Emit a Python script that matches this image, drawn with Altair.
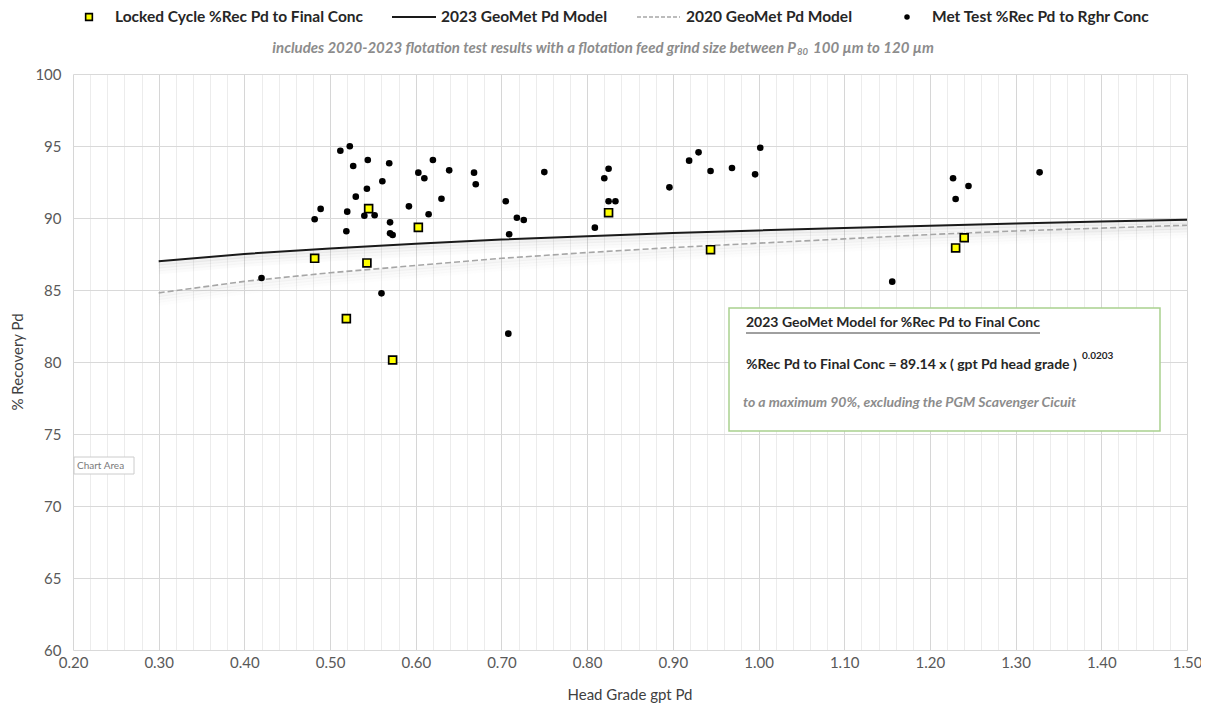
import altair as alt
import pandas as pd

# ---------------- data ----------------
# Locked Cycle %Rec Pd to Final Conc (yellow squares)
lc_x = [0.545, 0.482, 0.543, 0.603, 0.519, 0.573, 0.825, 0.944, 1.240, 1.230]
lc_y = [90.65, 87.20, 86.88, 89.35, 83.01, 80.14, 90.37, 87.80, 88.63, 87.92]

# Met Test %Rec Pd to Rghr Conc (black dots)
mt_x = [0.512, 0.523, 0.527, 0.544, 0.569, 0.561, 0.543, 0.530, 0.489, 0.482,
        0.520, 0.540, 0.552, 0.519, 0.570, 0.570, 0.573, 0.592, 0.603, 0.610,
        0.620, 0.639, 0.630, 0.615, 0.668, 0.670, 0.705, 0.718, 0.726, 0.709,
        0.420, 0.560, 0.708, 0.750, 0.820, 0.825, 0.825, 0.833, 0.809, 0.896,
        0.919, 0.930, 0.944, 0.969, 0.996, 1.002, 1.227, 1.245, 1.230, 1.328,
        1.156]
mt_y = [94.67, 94.98, 93.61, 94.03, 93.80, 92.55, 92.03, 91.48, 90.63, 89.91,
        90.44, 90.16, 90.19, 89.08, 89.70, 88.94, 88.82, 90.81, 93.15, 92.76,
        94.03, 93.31, 91.34, 90.26, 93.15, 92.34, 91.16, 90.02, 89.86, 88.87,
        85.83, 84.77, 81.97, 93.19, 92.76, 93.42, 91.16, 91.16, 89.33, 92.13,
        93.98, 94.56, 93.26, 93.47, 93.03, 94.88, 92.76, 92.22, 91.32, 93.17,
        85.58]

# Model curves read along the x axis
model_x = [0.30, 0.40, 0.50, 0.60, 0.70, 0.80, 0.90, 1.00, 1.10, 1.20, 1.30, 1.40, 1.50]
m2023_y = [86.99, 87.50, 87.89, 88.22, 88.50, 88.74, 88.95, 89.14, 89.31, 89.47, 89.62, 89.75, 89.88]
m2020_y = [84.80, 85.60, 86.20, 86.70, 87.20, 87.60, 87.95, 88.25, 88.55, 88.85, 89.10, 89.30, 89.50]

x_ticks = [round(0.2 + 0.02 * i, 2) for i in range(66)]
y_ticks = [60, 65, 70, 75, 80, 85, 90, 95, 100]

# ---------------- styling ----------------
FONT = "Lato"
W, H = 1114, 576

lc_df = pd.DataFrame({"x": lc_x, "y": lc_y})
mt_df = pd.DataFrame({"x": mt_x, "y": mt_y})
m23_df = pd.DataFrame({"x": model_x, "y": m2023_y})
m20_df = pd.DataFrame({"x": model_x, "y": m2020_y})
one = pd.DataFrame({"a": [0]})

major = "abs(round(datum.value*10) - datum.value*10) < 0.001"
xscale = alt.Scale(domain=[0.2, 1.5], nice=False, zero=False)
yscale = alt.Scale(domain=[60, 100], nice=False, zero=False)
xaxis = alt.Axis(values=x_ticks, grid=True,
                 gridColor={"condition": {"test": major, "value": "#d6d6d6"}, "value": "#ececec"},
                 labelExpr=f"({major}) ? format(datum.value, '.2f') : ''",
                 labelOverlap=False, labelBound=False, labelFlush=False,
                 ticks=False, domain=False, title=None, labelFont=FONT,
                 labelFontSize=15, labelColor="#595959", labelPadding=5)
yaxis = alt.Axis(values=y_ticks, grid=True, gridColor="#d9d9d9", ticks=False, domain=False,
                 title=None, labelFont=FONT, labelFontSize=15, labelColor="#595959",
                 labelPadding=12, format="d", labelFlush=False)


def X():
    return alt.X("x:Q", scale=xscale, axis=xaxis)


def Y(field="y:Q"):
    return alt.Y(field, scale=yscale, axis=yaxis)


layers = []

# soft shadows under the model lines
for df, offs in ((m23_df, [(0.15, 0.11), (0.35, 0.08), (0.55, 0.05), (0.75, 0.03)]),
                 (m20_df, [(0.15, 0.07), (0.35, 0.05), (0.55, 0.035), (0.75, 0.02)])):
    for k, op in offs:
        layers.append(
            alt.Chart(df).transform_calculate(ys=f"datum.y - {k}")
            .mark_line(color="#808080", strokeWidth=4, opacity=op)
            .encode(x=X(), y=Y("ys:Q"))
        )

layers.append(alt.Chart(m20_df).mark_line(color="#a6a6a6", strokeWidth=1.6, strokeDash=[6, 3])
              .encode(x=X(), y=Y()))
layers.append(alt.Chart(m23_df).mark_line(color="#1a1a1a", strokeWidth=2)
              .encode(x=X(), y=Y()))
layers.append(alt.Chart(mt_df).mark_circle(color="#000000", size=44, opacity=1)
              .encode(x=X(), y=Y()))
layers.append(alt.Chart(lc_df).mark_point(shape="square", filled=True, fill="#ffff00",
                                          stroke="#000000", strokeWidth=1.7, size=62, opacity=1)
              .encode(x=X(), y=Y()))


def txt(text, x, y, size=14, weight="bold", style="normal", color="#262626",
        align="left", baseline="middle", angle=0):
    return alt.Chart(one).mark_text(text=text, font=FONT, fontSize=size, fontWeight=weight,
                                    fontStyle=style, color=color, align=align,
                                    baseline=baseline, angle=angle).encode(
        x=alt.value(x), y=alt.value(y))


def rule(x1, x2, y, color, width=1.0, dash=None):
    kw = dict(color=color, strokeWidth=width)
    if dash:
        kw["strokeDash"] = dash
    return alt.Chart(one).mark_rule(**kw).encode(x=alt.value(x1), x2=alt.value(x2), y=alt.value(y))


# ---------------- legend (top) ----------------
LY = -57
LS = 15.5
layers.append(alt.Chart(one).mark_point(shape="square", filled=True, fill="#ffff00",
                                        stroke="#000000", strokeWidth=1.6, size=45, opacity=1)
              .encode(x=alt.value(16), y=alt.value(LY)))
layers.append(txt("Locked Cycle %Rec Pd to Final Conc", 42, LY, size=LS))
layers.append(rule(319, 363, LY, "#1a1a1a", 2))
layers.append(txt("2023 GeoMet Pd Model", 368, LY, size=LS))
layers.append(rule(564, 607, LY, "#a6a6a6", 1.4, [4, 2]))
layers.append(txt("2020 GeoMet Pd Model", 613, LY, size=LS))
layers.append(alt.Chart(one).mark_circle(color="#000000", size=30, opacity=1)
              .encode(x=alt.value(834), y=alt.value(LY)))
layers.append(txt("Met Test %Rec Pd to Rghr Conc", 859, LY, size=LS))

# ---------------- subtitle ----------------
SY = -26
SUBC = "#8c8c8c"
layers.append(txt("includes 2020-2023 flotation test results with a flotation feed grind size between P",
                  723, SY, size=15, style="italic", color=SUBC, align="right"))
layers.append(txt("80", 724, SY + 4, size=9.5, style="italic", color=SUBC))
layers.append(txt("100 µm to 120 µm", 740, SY, size=15, style="italic", color=SUBC))

# ---------------- axis titles ----------------
layers.append(txt("% Recovery Pd", -55, H / 2, size=15, weight="normal", color="#404040",
                  align="center", angle=270))
layers.append(txt("Head Grade gpt Pd", W / 2, 621, size=15, weight="normal", color="#404040",
                  align="center"))

# ---------------- "Chart Area" tag ----------------
layers.append(alt.Chart(one).mark_rect(fill="#ffffff", stroke="#cccccc", strokeWidth=1)
              .encode(x=alt.value(1), x2=alt.value(61), y=alt.value(383), y2=alt.value(400)))
layers.append(txt("Chart Area", 4, 391.5, size=10, weight="normal", color="#7a7a7a"))

# ---------------- model text box ----------------
layers.append(alt.Chart(one).mark_rect(fill="#ffffff", stroke="#a9d18e", strokeWidth=1.5)
              .encode(x=alt.value(656), x2=alt.value(1087), y=alt.value(234), y2=alt.value(357)))
layers.append(txt("2023 GeoMet Model for %Rec Pd to Final Conc", 673, 249, size=14))
layers.append(rule(673, 967, 259, "#404040", 1))
layers.append(txt("%Rec Pd to Final Conc = 89.14 x ( gpt Pd head grade )", 673, 291, size=14))
layers.append(txt("0.0203", 1009, 282, size=10))
layers.append(txt("to a maximum 90%, excluding the PGM Scavenger Cicuit", 670, 329, size=14,
                  style="italic", color="#8c8c8c"))

chart = alt.layer(*layers).properties(
    width=W, height=H,
    padding={"left": 65, "top": 66, "right": 14, "bottom": 53},
    autosize=alt.AutoSizeParams(type="none"),
    background="#ffffff",
).configure_view(stroke=None)

chart.save("out.html", embed_options={"renderer": "svg", "actions": False})
